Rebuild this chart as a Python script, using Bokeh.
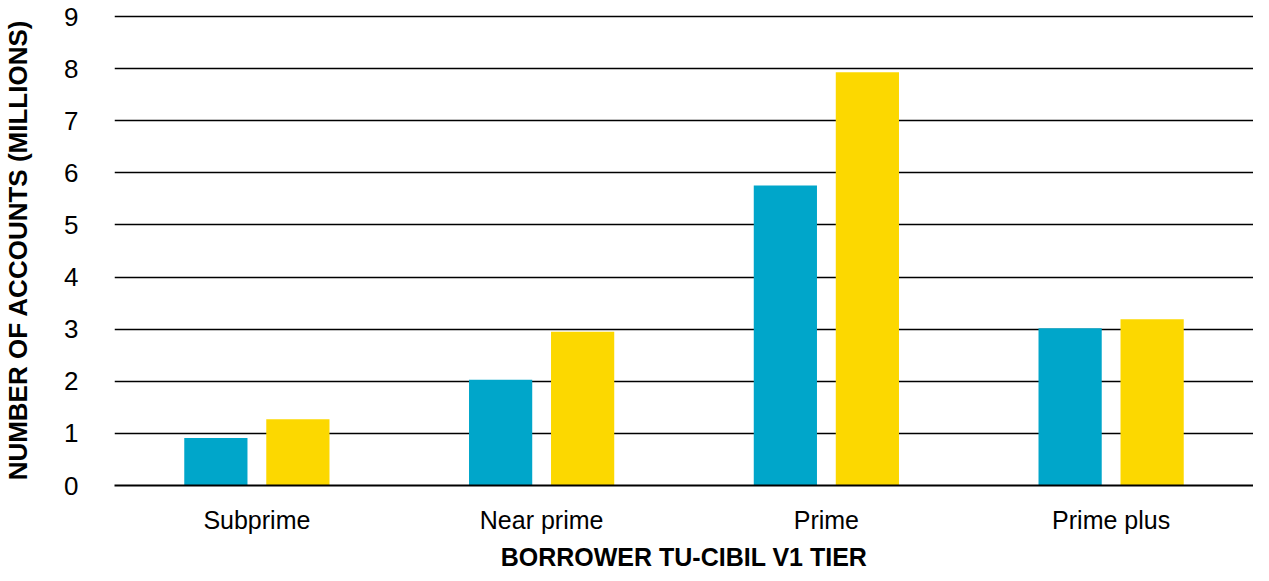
from bokeh.plotting import figure
from bokeh.models import FactorRange, Range1d, ColumnDataSource, FixedTicker
from bokeh.transform import dodge
from bokeh.embed import file_html
from bokeh.resources import INLINE

tiers = ["Subprime", "Near prime", "Prime", "Prime plus"]
series_a = [0.91, 2.03, 5.76, 3.02]
series_b = [1.27, 2.95, 7.93, 3.19]
y_ticks = [0, 1, 2, 3, 4, 5, 6, 7, 8, 9]

src = ColumnDataSource(dict(tier=tiers, a=series_a, b=series_b))

p = figure(x_range=FactorRange(*tiers), y_range=Range1d(0, 9.04),
           width=1253, height=573, output_backend="svg", toolbar_location=None,
           min_border_left=109, min_border_right=0, min_border_top=14, min_border_bottom=88)
p.outline_line_color = None
p.background_fill_color = "white"

p.vbar(x=dodge("tier", -0.144, range=p.x_range), top="a", width=0.222, source=src,
       fill_color="#00A6CA", line_color=None)
p.vbar(x=dodge("tier", 0.144, range=p.x_range), top="b", width=0.222, source=src,
       fill_color="#FCD800", line_color=None)

p.x_range.range_padding = 0
p.xgrid.grid_line_color = None
p.ygrid.grid_line_color = "black"
p.ygrid.grid_line_width = 1.5
p.yaxis.ticker = FixedTicker(ticks=y_ticks)

p.yaxis.axis_line_color = None
p.yaxis.major_tick_line_color = None
p.yaxis.minor_tick_line_color = None
p.yaxis.major_label_standoff = 30
p.yaxis.major_label_text_font = "Liberation Sans"
p.yaxis.major_label_text_font_size = "26px"
p.yaxis.major_label_text_color = "black"
p.yaxis.axis_label = "NUMBER OF ACCOUNTS (MILLIONS)"
p.yaxis.axis_label_text_font = "Liberation Sans"
p.yaxis.axis_label_text_font_style = "bold"
p.yaxis.axis_label_text_font_size = "26px"
p.yaxis.axis_label_text_color = "black"
p.yaxis.axis_label_standoff = 28

p.xaxis.axis_line_color = "black"
p.xaxis.axis_line_width = 2
p.xaxis.major_tick_line_color = None
p.xaxis.minor_tick_line_color = None
p.xaxis.major_label_standoff = 14
p.xaxis.major_label_text_font = "Liberation Sans"
p.xaxis.major_label_text_font_size = "25px"
p.xaxis.major_label_text_color = "black"
p.xaxis.axis_label = "BORROWER TU-CIBIL V1 TIER"
p.xaxis.axis_label_text_font = "Liberation Sans"
p.xaxis.axis_label_text_font_style = "bold"
p.xaxis.axis_label_text_font_size = "25px"
p.xaxis.axis_label_text_color = "black"
p.xaxis.axis_label_standoff = 6

open("out.html", "w").write(file_html(p, INLINE))
